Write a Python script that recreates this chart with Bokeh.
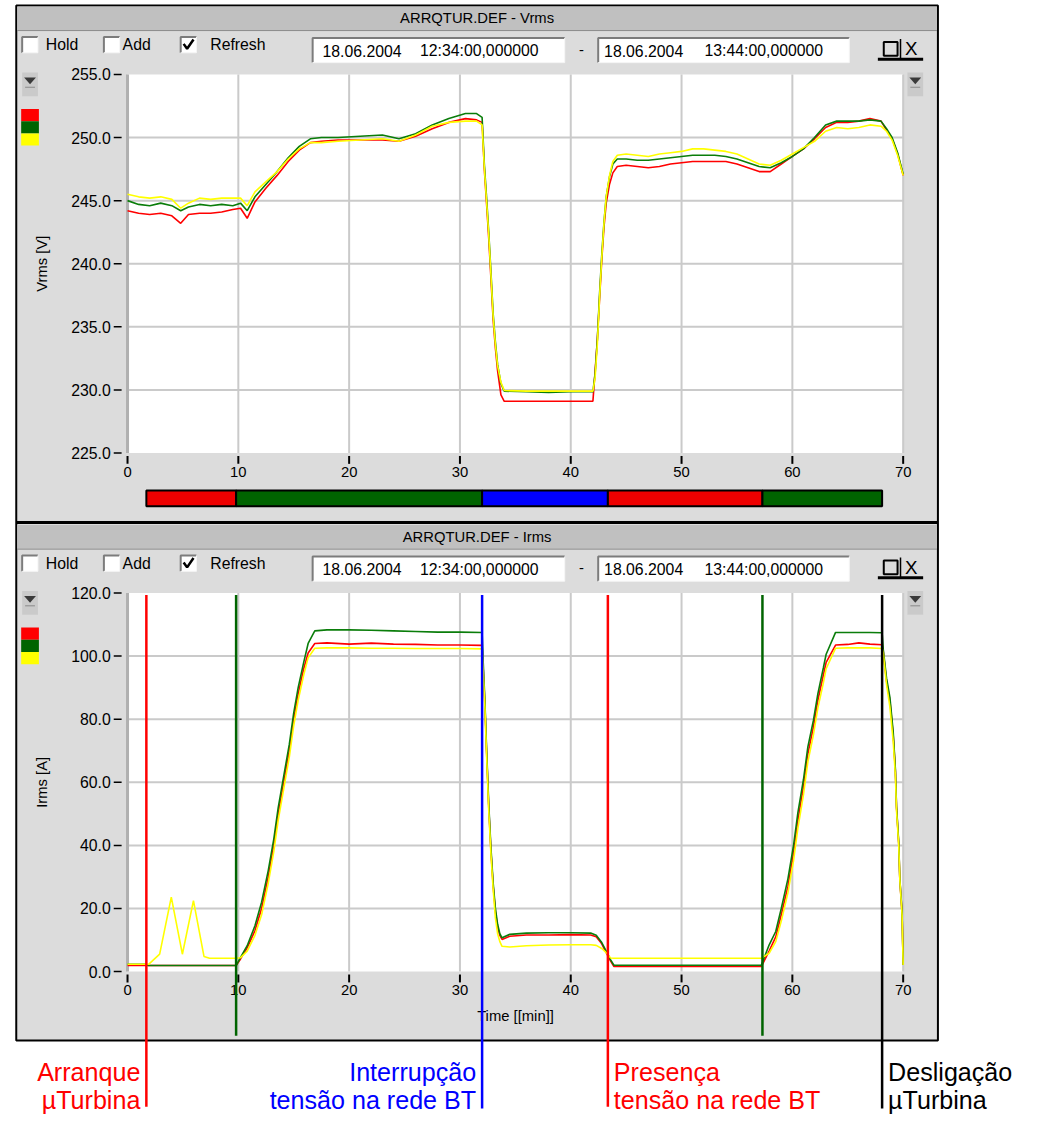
from bokeh.plotting import figure
from bokeh.models import Range1d
from bokeh.core.properties import value
from bokeh.embed import file_html
from bokeh.resources import INLINE

# ---------------------------------------------------------------- data
# Vrms panel (minutes, volts)
v_time = [0, 1, 2, 3, 4, 4.8, 5.5, 6.5, 7.5, 8.5, 9.5, 10.2, 10.8, 11.5, 12.5,
          13.5, 14.5, 15.5, 16.5, 17.5, 19, 21, 23, 24.5, 26, 27.5, 29, 30.5, 31.5, 32.0,
          32.2, 32.4, 32.6, 32.8, 33.0, 33.2, 33.4, 33.7, 34.0, 36, 38, 40, 42.0, 42.2, 42.4,
          42.6, 42.8, 43.0, 43.2, 43.5, 43.8, 44.2, 45, 46, 47, 48, 49, 50, 51, 52,
          53, 54, 55, 56, 57, 58, 59, 60, 61, 62, 63, 64, 65, 66, 67, 68, 68.5, 69, 69.5, 70]
v_red = [244.2, 244.0, 243.9, 244.0, 243.8, 243.2, 243.9, 244.0, 244.0, 244.1,
         244.3, 244.4, 243.6, 244.9, 246.0, 247.0, 248.1, 249.0, 249.6, 249.7,
         249.8, 249.8, 249.8, 249.7, 250.1, 250.7, 251.2, 251.5, 251.4, 251.2,
         247.5, 244.8, 242.0, 238.8, 235.5, 233.3, 231.5, 229.6, 229.1, 229.1,
         229.1, 229.1, 229.1, 231.5, 234.0, 237.2, 240.3, 242.9, 244.8, 246.3,
         247.2, 247.7, 247.8, 247.7, 247.6, 247.7, 247.9, 248.0, 248.1, 248.1,
         248.1, 248.1, 247.9, 247.6, 247.3, 247.3, 247.9, 248.5, 249.1, 249.9,
         250.8, 251.2, 251.2, 251.3, 251.5, 251.3, 250.6, 249.9, 248.7, 247.0]
v_green = [245.0, 244.7, 244.6, 244.8, 244.6, 244.2, 244.5, 244.7, 244.6, 244.7,
           244.6, 244.8, 244.2, 245.3, 246.3, 247.3, 248.4, 249.3, 249.9, 250.0,
           250.0, 250.1, 250.2, 249.9, 250.3, 251.0, 251.5, 251.9, 251.9, 251.6,
           247.9, 245.3, 242.5, 239.3, 236.0, 233.8, 232.0, 230.5, 229.9, 229.85,
           229.8, 229.85, 229.85, 231.3, 234.0, 237.6, 240.7, 243.3, 245.3, 246.9,
           247.9, 248.3, 248.3, 248.2, 248.2, 248.3, 248.4, 248.5, 248.6, 248.6,
           248.6, 248.5, 248.3, 248.0, 247.7, 247.6, 248.0, 248.5, 249.1, 250.0,
           251.0, 251.3, 251.3, 251.3, 251.4, 251.3, 250.7, 250.0, 248.8, 247.1]
v_yellow = [245.5, 245.3, 245.2, 245.3, 245.1, 244.4, 244.8, 245.2, 245.1, 245.2,
            245.2, 245.2, 244.6, 245.7, 246.5, 247.3, 248.3, 249.1, 249.6, 249.6,
            249.7, 249.8, 249.9, 249.7, 250.2, 250.9, 251.2, 251.3, 251.3, 251.0,
            247.6, 245.0, 242.3, 239.1, 235.8, 233.6, 231.9, 230.6, 229.95, 229.9,
            229.9, 229.9, 229.9, 231.0, 233.6, 237.3, 240.5, 243.2, 245.3, 247.0,
            248.1, 248.6, 248.7, 248.6, 248.5, 248.7, 248.8, 248.9, 249.1, 249.1,
            249.0, 248.9, 248.7, 248.3, 247.9, 247.8, 248.2, 248.7, 249.2, 249.7,
            250.5, 250.8, 250.7, 250.8, 251.0, 250.9, 250.5, 249.8, 248.6, 247.0]
v_ticks = [225, 230, 235, 240, 245, 250, 255]
v_tick_labels = ["225.0", "230.0", "235.0", "240.0", "245.0", "250.0", "255.0"]

# Irms panel (minutes, amperes)
i_time = [0, 1.7, 1.9, 2.9, 3.95, 4.95, 5.95, 6.9, 7.4, 9.8, 10.2, 10.8, 11.5, 12.1, 12.7,
          13.2, 13.6, 14.1, 14.6, 15.0, 15.4, 15.9, 16.3, 16.9, 18, 20, 22, 24, 26, 28,
          30, 32.0, 32.1, 32.25, 32.4, 32.6, 32.8, 33.0, 33.2, 33.4, 33.6, 33.8, 34.5, 36, 38,
          40, 41.8, 42.3, 42.8, 43.2, 43.6, 43.9, 46, 50, 54, 57.2, 57.9, 58.5, 59.0, 59.6,
          60.1, 60.5, 61.0, 61.4, 61.9, 62.3, 62.8, 63.05, 63.9, 65, 66, 67, 68.1, 68.2, 68.5,
          68.8, 69.1, 69.3, 69.4, 69.6, 69.7, 69.9, 70]
i_red = [1.9, 1.9, 1.9, 1.9, 1.9, 1.9, 1.9, 1.9, 1.9, 1.9,
         4.0, 7.5, 13, 20, 30, 40, 50, 60, 70, 80,
         88, 96, 101, 104, 104.2, 103.8, 104.1, 103.8, 103.7, 103.5,
         103.5, 103.4, 96, 85, 70, 52, 38, 27, 19, 14,
         11.5, 10.2, 11.2, 11.6, 11.6, 11.7, 11.6, 11.0, 8.8, 6.0,
         3.3, 1.6, 1.6, 1.6, 1.6, 1.6, 6.5, 11, 18, 27,
         37.5, 48, 58.5, 69, 77.5, 86, 94, 98, 103.5, 103.7,
         104.2, 103.8, 103.6, 101.5, 92, 86, 75, 63.5, 52, 40.5,
         29, 18.5, 2.1]
i_green = [2.3, 2.3, 1.9, 1.9, 1.9, 1.9, 1.9, 1.9, 1.9, 1.9,
           4.5, 8.2, 14.5, 22, 32, 42, 52, 62, 72, 82,
           90, 98, 104, 108, 108.3, 108.3, 108.2, 108.0, 107.8, 107.6,
           107.6, 107.5, 98, 86, 71, 53, 39, 28, 20, 15,
           12, 10.7, 11.8, 12.2, 12.3, 12.3, 12.2, 11.5, 9.2, 6.5,
           3.7, 2.0, 2.0, 2.0, 2.0, 2.0, 8.4, 12.7, 20, 29.4,
           39.8, 50.4, 60.8, 71.2, 79.6, 88, 96.3, 100.6, 107.5, 107.5,
           107.5, 107.5, 107.4, 102.2, 93, 87, 76, 64, 52.4, 41,
           29.4, 19, 2.1]
i_yellow = [2.3, 2.3, 2.3, 5.5, 23.6, 5.5, 22.5, 4.8, 4.2, 4.2,
            4.4, 6.5, 11.5, 18, 28, 38, 48, 58, 68, 78,
            86, 94, 99.5, 102.5, 102.6, 102.6, 102.5, 102.5, 102.4, 102.4,
            102.4, 102.3, 95, 84, 69, 51, 37, 26, 17, 12,
            9.5, 8, 7.8, 8.2, 8.4, 8.5, 8.5, 8.3, 7.3, 6.0,
            4.3, 4.2, 4.2, 4.2, 4.2, 4.2, 5.8, 9.5, 16, 25,
            35, 45.5, 56, 66.5, 75, 83.5, 91.5, 96, 102.5, 102.6,
            102.6, 102.6, 102.4, 101, 91, 84, 73, 62, 51, 40,
            29, 18, 2.1]
i_ticks = [0, 20, 40, 60, 80, 100, 120]
i_tick_labels = ["0.0", "20.0", "40.0", "60.0", "80.0", "100.0", "120.0"]

x_ticks = [0, 10, 20, 30, 40, 50, 60, 70]
x_tick_labels = ["0", "10", "20", "30", "40", "50", "60", "70"]

# events (minutes)
event_time = [1.7, 9.8, 32.0, 43.35, 57.3, 68.1]
event_color = ["#ff0000", "#006400", "#0000ff", "#ff0000", "#006400", "#000000"]
bar_color = ["#ee0000", "#006400", "#0000ff", "#ee0000", "#006400"]
note_right_event = [0, 0, 2, 2]
note_right_text = ["Arranque", "\u00b5Turbina", "Interrup\u00e7\u00e3o", "tens\u00e3o na rede BT"]
note_right_color = ["#ff0000", "#ff0000", "#0000ff", "#0000ff"]
note_left_event = [3, 3, 5, 5]
note_left_text = ["Presen\u00e7a", "tens\u00e3o na rede BT", "Desliga\u00e7\u00e3o", "\u00b5Turbina"]
note_left_color = ["#ff0000", "#ff0000", "#000000", "#000000"]

# ---------------------------------------------------------------- layout helpers
FONT = value("Liberation Sans")
W, H = 1029, 1115
PX0, PX1 = 0, 1045      # reference-pixel window mapped onto the frame (x)
PY0, PY1 = 1131, 0      # reference-pixel window mapped onto the frame (y, downwards)
S = W / (PX1 - PX0)


def fs(px):
    return f"{px * S:.1f}px"


def mapped_range(pa, va, pb, vb, ps, pe):
    k = (vb - va) / (pb - pa)
    return Range1d(start=va + (ps - pa) * k, end=va + (pe - pa) * k)


p = figure(width=W, height=H, x_range=Range1d(PX0, PX1), y_range=Range1d(PY0, PY1),
           x_axis_location=None, y_axis_location=None, output_backend="svg",
           toolbar_location=None, min_border=0, title=None)
p.grid.visible = False
p.outline_line_color = None
p.background_fill_color = "white"
p.border_fill_color = "white"

p.extra_x_ranges = {"tx": mapped_range(129.0, 0.0, 916.7, 70.0, PX0, PX1)}
p.extra_y_ranges = {"vy": mapped_range(75.0, 255.0, 459.0, 225.0, PY0, PY1),
                    "iy": mapped_range(985.0, 0.0, 601.0, 120.0, PY0, PY1)}

# window background
p.quad(left=[16], right=[952], top=[5], bottom=[1055], fill_color="#dcdcdc",
       line_color="black", line_width=2)


def txt(x, y, s, size=16, align="left", color="black", **kw):
    p.text(x=x, y=y, text=s, text_font=FONT, text_font_size=fs(size), text_align=align,
           text_baseline="middle", text_color=color, **kw)


def sunken(l, r, t, b):
    p.quad(left=[l], right=[r], top=[t], bottom=[b], fill_color="white", line_color=None)
    p.line([l, l, r], [b, t, t], line_color="#7c7c7c", line_width=2)
    p.line([l, r, r], [b, b, t], line_color="#f6f6f6", line_width=1)


def icon(l, t):
    p.quad(left=[l], right=[l + 16], top=[t], bottom=[t + 24], fill_color="#c4c4c4",
           line_color=None, fill_alpha=0.75)
    p.patch([l + 2, l + 14, l + 8], [t + 5, t + 5, t + 12], fill_color="#3a3a3a", line_color=None)
    p.segment([l + 3], [t + 15], [l + 13], [t + 15], line_color="#8a8a8a", line_width=1)


def panel(off, title):
    p.quad(left=[17], right=[951], top=[6 + off], bottom=[30 + off], fill_color="#c0c0c0",
           line_color=None)
    p.segment([17], [30.5 + off], [951], [30.5 + off], line_color="#8a8a8a", line_width=1)
    txt([484], [18 + off], [title], size=15, align="center")
    for bx in (22, 105, 183):
        sunken(bx, bx + 16, 37 + off, 53 + off)
    p.line([186, 189.5, 196], [44 + off, 49 + off, 39.5 + off], line_color="black", line_width=2.5)
    txt([46, 124, 213], [45 + off] * 3, ["Hold", "Add", "Refresh"], size=16)
    sunken(317, 573, 38 + off, 63 + off)
    sunken(607, 862, 38 + off, 63 + off)
    txt([327, 426, 613, 715], [51 + off] * 4,
        ["18.06.2004", "12:34:00,000000", "18.06.2004", "13:44:00,000000"], size=16)
    txt([590], [50 + off], ["-"], size=15, align="center")
    p.quad(left=[897], right=[911], top=[42 + off], bottom=[56 + off], fill_color=None,
           line_color="black", line_width=2)
    p.segment([914], [39 + off], [914], [59 + off], line_color="black", line_width=1.5)
    txt([925], [49 + off], ["X"], size=19, align="center")
    p.segment([891], [59.5 + off], [937], [59.5 + off], line_color="black", line_width=3)
    icon(22, 73 + off)
    icon(921, 73 + off)
    for k, c in enumerate(["#ff0000", "#006400", "#ffff00"]):
        p.quad(left=[21], right=[39], top=[110 + off + 12.4 * k], bottom=[110 + off + 12.4 * (k + 1)],
               fill_color=c, line_color=None)


def plot_area(yname, ylo, yhi, yticks, ylabels, frame_bottom_px, ylabel, label_y_px, series):
    kw = dict(x_range_name="tx", y_range_name=yname)
    p.quad(left=[0], right=[70], bottom=[ylo], top=[yhi], fill_color="white", line_color=None, **kw)
    gx = x_ticks[1:]
    p.segment(x0=gx, y0=[ylo] * len(gx), x1=gx, y1=[yhi] * len(gx), line_color="#cacaca",
              line_width=2, **kw)
    gy = yticks[1:-1]
    p.segment(x0=[0] * len(gy), y0=gy, x1=[70] * len(gy), y1=gy, line_color="#cacaca",
              line_width=2, **kw)
    p.segment(x0=[0], y0=[ylo], x1=[0], y1=[yhi], line_color="#b0b0b0", line_width=3, **kw)
    # y ticks and labels
    n = len(yticks)
    p.segment(x0=[115] * n, y0=yticks, x1=[123] * n, y1=yticks, line_color="black",
              line_width=1.5, y_range_name=yname)
    txt([112] * n, yticks, ylabels, size=16, align="right", y_range_name=yname)
    # x ticks and labels
    m = len(x_ticks)
    p.segment(x0=x_ticks, y0=[frame_bottom_px + 3] * m, x1=x_ticks, y1=[frame_bottom_px + 11] * m,
              line_color="black", line_width=2, x_range_name="tx")
    txt(x_ticks, [frame_bottom_px + 19] * m, x_tick_labels, size=15, align="center",
        x_range_name="tx")
    # axis label
    p.text(x=[42], y=[label_y_px], text=[ylabel], angle=1.5708, text_font=FONT,
           text_font_size=fs(15), text_align="center", text_baseline="middle", text_color="black")
    # series
    t, reds, greens, yellows = series
    p.line(t, reds, line_color="#ff0000", line_width=1.6, **kw)
    p.line(t, greens, line_color="#0a7d0a", line_width=1.6, **kw)
    p.line(t, yellows, line_color="#ffff00", line_width=1.6, **kw)


panel(0, "ARRQTUR.DEF - Vrms")
panel(526, "ARRQTUR.DEF - Irms")
p.segment([16], [529.5], [952], [529.5], line_color="black", line_width=3)

plot_area("vy", 225, 255, v_ticks, v_tick_labels, 459, "Vrms [V]", 267,
          (v_time, v_red, v_green, v_yellow))
plot_area("iy", 0, 120, i_ticks, i_tick_labels, 985, "Irms [A]", 793,
          (i_time, i_red, i_green, i_yellow))

txt([523], [1030], ["Time [[min]]"], size=15, align="center")

# event bar under the Vrms panel
p.quad(left=event_time[:-1], right=event_time[1:], top=[497] * 5, bottom=[513] * 5,
       fill_color=bar_color, line_color="black", line_width=2, x_range_name="tx")

# event lines through the Irms panel
event_end_px = [1122, 1050, 1124, 1122, 1050, 1124]
p.segment(x0=event_time, y0=[603] * len(event_time), x1=event_time, y1=event_end_px,
          line_color=event_color, line_width=2.5, x_range_name="tx")

# annotations
line_y = [1087, 1115, 1087, 1115]
p.text(x=[event_time[i] for i in note_right_event], y=line_y, text=note_right_text,
       text_color=note_right_color, text_font=FONT, text_font_size=fs(25.5), text_align="right",
       text_baseline="alphabetic", x_offset=-6, x_range_name="tx")
p.text(x=[event_time[i] for i in note_left_event], y=line_y, text=note_left_text,
       text_color=note_left_color, text_font=FONT, text_font_size=fs(25.5), text_align="left",
       text_baseline="alphabetic", x_offset=6, x_range_name="tx")

open("out.html", "w").write(file_html(p, INLINE))
